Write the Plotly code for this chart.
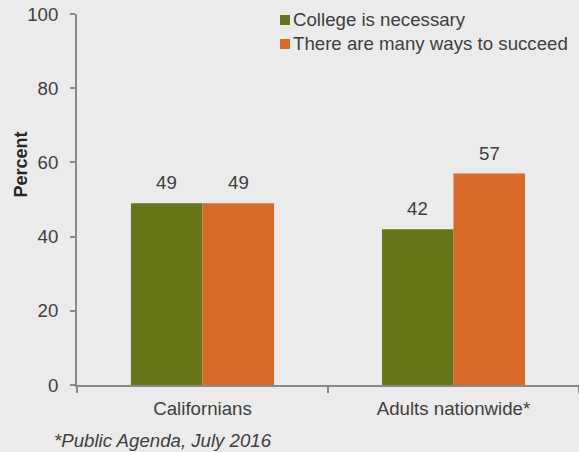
import plotly.graph_objects as go

categories = ["Californians", "Adults nationwide*"]
series_names = ["College is necessary", "There are many ways to succeed"]
college_necessary = [49, 42]
many_ways = [49, 57]
y_ticks = [0, 20, 40, 60, 80, 100]

green = "#68761a"
orange = "#d76b27"
text_col = "#404040"
font = "Liberation Sans, Arial, sans-serif"
FS = 18.67

W, H = 579, 452
L, R, T, B = 77, 0, 14, 67
BARGAP = 0.43

pw = W - L - R
ph = H - T - B


def px2paper(x, y):
    return (x - L) / pw, (H - B - y) / ph


series = [(series_names[0], college_necessary, green), (series_names[1], many_ways, orange)]

fig = go.Figure()
annotations = []
cat_w = pw / len(categories)
bar_w = cat_w * (1 - BARGAP) / len(series)
for si, (name, vals, col) in enumerate(series):
    fig.add_trace(go.Bar(
        x=categories, y=vals, name=name, marker=dict(color=col, line=dict(width=0)),
        showlegend=False, hoverinfo="x+y+name",
    ))
    off = (si - (len(series) - 1) / 2) * bar_w
    for c, v in zip(categories, vals):
        annotations.append(dict(x=c, y=v, xref="x", yref="y", text=str(v), showarrow=False,
                                xshift=off, yanchor="bottom", yshift=8,
                                font=dict(size=FS, color=text_col, family=font)))

# legend (manual, to match the compact swatch/text spacing)
shapes = []
leg_rows = [20, 44]
for (name, vals, col), yc in zip(series, leg_rows):
    x0, y0 = px2paper(280, yc - 5)
    x1, y1 = px2paper(290, yc + 5)
    shapes.append(dict(type="rect", xref="paper", yref="paper", x0=x0, x1=x1, y0=y0, y1=y1,
                       fillcolor=col, line=dict(width=0)))
    tx, ty = px2paper(291, yc)
    annotations.append(dict(text=name, x=tx, y=ty, xref="paper", yref="paper", showarrow=False,
                            xanchor="left", yanchor="middle",
                            font=dict(size=FS, color=text_col, family=font)))

pt = px2paper(20.5, 165)
pn = px2paper(52, 440)
annotations += [
    dict(text="<b>Percent</b>", x=pt[0], y=pt[1], xref="paper", yref="paper",
         xanchor="center", yanchor="middle",
         showarrow=False, textangle=-90, font=dict(size=18, color="#262626")),
    dict(text="<i>*Public Agenda, July 2016</i>", x=pn[0], y=pn[1],
         xref="paper", yref="paper", showarrow=False, xanchor="left", yanchor="middle",
         font=dict(size=FS, color=text_col)),
]

fig.update_layout(
    width=W, height=H,
    margin=dict(l=L, r=R, t=T, b=B, pad=0),
    paper_bgcolor="#ebebeb", plot_bgcolor="#ebebeb",
    barmode="group", bargap=BARGAP, bargroupgap=0,
    font=dict(family=font, size=FS, color=text_col),
    showlegend=False,
    xaxis=dict(showline=True, linecolor="#898989", linewidth=2, ticks="outside",
               tickson="boundaries", ticklen=6, tickcolor="#898989", tickwidth=2,
               tickfont=dict(size=FS, color=text_col), showgrid=False,
               ticklabelstandoff=6),
    yaxis=dict(range=[0, 100], tickvals=y_ticks, showline=True, linecolor="#898989",
               linewidth=2, ticks="outside", ticklen=5, tickcolor="#898989", tickwidth=2,
               tickfont=dict(size=FS, color=text_col), showgrid=False, zeroline=False,
               ticklabelstandoff=8),
    annotations=annotations,
    shapes=shapes,
)

fig.write_html("out.html", config={"displayModeBar": False},
               post_script="document.body.style.margin='0';")
